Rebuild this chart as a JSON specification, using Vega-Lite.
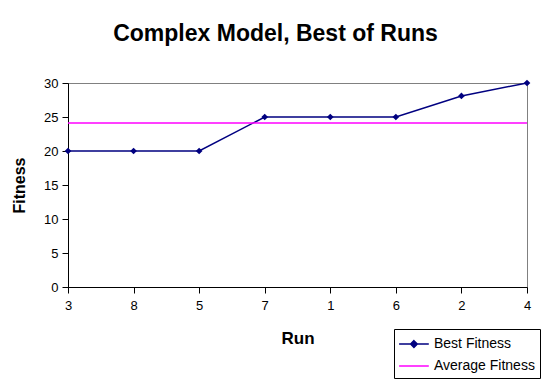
{
  "$schema": "https://vega.github.io/schema/vega-lite/v6.json",
  "width": 459,
  "height": 204,
  "autosize": "none",
  "padding": {"left": 68, "top": 83, "right": 22, "bottom": 97},
  "background": "white",
  "title": {"text": "Complex Model, Best of Runs", "font": "Liberation Sans", "fontSize": 23, "fontWeight": "bold", "color": "black", "anchor": "middle", "dx": -22, "offset": 31},
  "data": {"values": [
    {"run": "3", "series": "Best Fitness", "value": 20},
    {"run": "8", "series": "Best Fitness", "value": 20},
    {"run": "5", "series": "Best Fitness", "value": 20},
    {"run": "7", "series": "Best Fitness", "value": 25},
    {"run": "1", "series": "Best Fitness", "value": 25},
    {"run": "6", "series": "Best Fitness", "value": 25},
    {"run": "2", "series": "Best Fitness", "value": 28.1},
    {"run": "4", "series": "Best Fitness", "value": 30},
    {"run": "3", "series": "Average Fitness", "value": 24.1},
    {"run": "8", "series": "Average Fitness", "value": 24.1},
    {"run": "5", "series": "Average Fitness", "value": 24.1},
    {"run": "7", "series": "Average Fitness", "value": 24.1},
    {"run": "1", "series": "Average Fitness", "value": 24.1},
    {"run": "6", "series": "Average Fitness", "value": 24.1},
    {"run": "2", "series": "Average Fitness", "value": 24.1},
    {"run": "4", "series": "Average Fitness", "value": 24.1}
  ]},
  "encoding": {
    "x": {"field": "run", "type": "ordinal", "sort": null, "scale": {"type": "point", "padding": 0},
      "axis": {"title": "Run", "labelAngle": 0, "tickSize": 6, "labelPadding": 6, "titlePadding": 18, "titleFontSize": 17}},
    "y": {"field": "value", "type": "quantitative", "scale": {"domain": [0, 30], "nice": false},
      "axis": {"title": "Fitness", "values": [0, 5, 10, 15, 20, 25, 30], "tickSize": 6, "labelPadding": 4, "titlePadding": 16}},
    "color": {"field": "series", "type": "nominal",
      "scale": {"domain": ["Best Fitness", "Average Fitness"], "range": ["#000080", "#FF00FF"]},
      "legend": {
        "title": null, "orient": "none", "legendX": 326, "legendY": 246,
        "strokeColor": "black", "fillColor": "white", "padding": 5,
        "symbolType": "stroke", "symbolSize": 324, "symbolStrokeWidth": 1.5,
        "labelFont": "Liberation Sans", "labelFontSize": 14, "labelColor": "black",
        "rowPadding": 5, "labelOffset": 15,
        "encode": {"symbols": {"update": {
          "shape": {"signal": "datum.value == 'Best Fitness' ? 'M-1.1,0H2.2M0.55,-0.37L0.92,0L0.55,0.37L0.18,0Z' : 'M-1.1,0H2.2'"},
          "fill": {"signal": "datum.value == 'Best Fitness' ? '#000080' : 'transparent'"}
        }}}
      }}
  },
  "layer": [
    {"mark": {"type": "line", "strokeWidth": 1.5}},
    {"transform": [{"filter": "datum.series == 'Best Fitness'"}],
     "mark": {"type": "point", "shape": "diamond", "filled": true, "size": 45, "opacity": 1}}
  ],
  "config": {
    "view": {"stroke": "#808080", "strokeWidth": 1},
    "axis": {"grid": false, "domainColor": "black", "tickColor": "black", "labelColor": "black", "titleColor": "black",
      "labelFont": "Liberation Sans", "labelFontSize": 13, "titleFont": "Liberation Sans", "titleFontSize": 16, "titleFontWeight": "bold", "domainWidth": 1, "tickWidth": 1}
  }
}
